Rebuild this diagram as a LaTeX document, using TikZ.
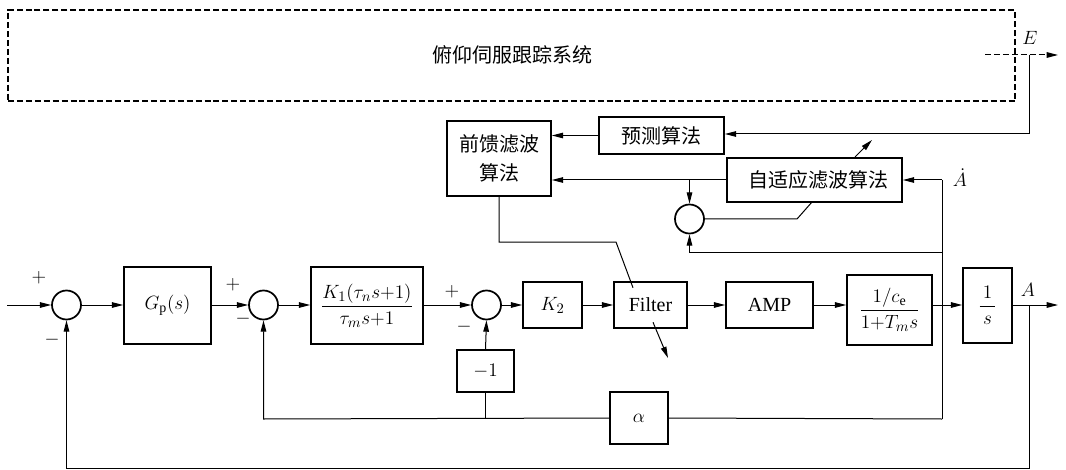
\documentclass[tikz,border=0pt]{standalone}
\usepackage{fontspec}
\usepackage{amsmath}
\setmainfont{Liberation Serif}
\newfontfamily\cjk{Noto Sans CJK SC}
\usetikzlibrary{arrows.meta}
\begin{document}
\begin{tikzpicture}[x=0.75pt,y=-0.75pt,
  every node/.style={font=\fontsize{15}{19}\selectfont, inner sep=0pt},
  blk/.style={draw, line width=1.3pt, align=center},
  sumc/.style={draw, circle, line width=1.3pt, minimum size=21.75pt},
  conn/.style={line width=0.75pt},
  arr/.style={conn, -{Triangle[length=8.5pt,width=4.2pt]}},
  sgn/.style={font=\fontsize{14}{16}\selectfont}]
\useasboundingbox (0,0) rectangle (1066,470);

% top system box
\node[draw, line width=0.8pt, dash pattern=on 4.5pt off 2.2pt, minimum width=755.25pt, minimum height=68.25pt] (sys) at (511.5,55.5) {};
\node (systxt) at (512,55) {\cjk 俯仰伺服跟踪系统};
\coordinate (eS) at (985,55);
\coordinate (eE) at (1058,55);
\draw[arr, dash pattern=on 4.5pt off 2.2pt] (eS) -- (eE);
\node (E) at (1030,38) {$E$};
\coordinate (eT) at (1029,55);
\coordinate (eB) at (1029,134);

% algorithm boxes
\node[blk, minimum width=93.75pt, minimum height=27.75pt] (pred) at (661.5,135.5) {\cjk 预测算法};
\node[blk, minimum width=78pt, minimum height=56.25pt] (ff) at (499,158.5) {\cjk 前馈滤波\\[3pt]\cjk 算法};
\node[blk, minimum width=131.25pt, minimum height=33pt] (adapt) at (814.5,180) {\hspace{6pt}\cjk 自适应滤波算法};
\node[sumc] (s4) at (689.5,219) {};

\draw[conn] (eT) -- (eB);
\draw[arr] (eB) -- (eB -| pred.east);
\draw[arr] (pred.west) -- (pred.west -| ff.east);
\draw[arr] (adapt.west) -- (adapt.west -| ff.east);
\coordinate (d1) at (689.5,180);
\draw[arr] (d1) -- (s4.north);
\coordinate (s4r) at (797,219);
\coordinate (adb) at (812,202);
\draw[conn] (s4.east) -- (s4r) -- (adb);
\coordinate (adjA) at (855,157);
\coordinate (adjB) at (872,140);
\draw[arr] (adjA) -- (adjB);

% main chain
\coordinate (in) at (7,305);
\node[sumc] (s1) at (66.5,305) {};
\node[blk, minimum width=65.25pt, minimum height=57.75pt] (gp) at (167.5,305.5) {$G_{\mathrm{p}}(s)$};
\node[sumc] (s2) at (263.5,305) {};
\node[blk, minimum width=84pt, minimum height=57.75pt] (k1) at (367,305.5) {$\dfrac{K_1(\tau_n s{+}1)}{\tau_m s{+}1}$};
\node[sumc] (s3) at (486.5,305) {};
\node[blk, minimum width=44.25pt, minimum height=34.5pt] (k2) at (552.5,305) {$K_2$};
\node[blk, minimum width=54.75pt, minimum height=34.5pt] (filt) at (650.5,305) {Filter};
\node[blk, minimum width=65.25pt, minimum height=34.5pt] (amp) at (769.5,305) {AMP};
\node[blk, minimum width=63.75pt, minimum height=52.5pt] (ce) at (889.5,310) {$\dfrac{1/c_{\mathrm{e}}}{1{+}T_m s}$};
\node[blk, minimum width=36.75pt, minimum height=56.25pt] (integ) at (987.5,305.5) {$\dfrac{\,1\,}{s}$};
\coordinate (out) at (1058,305);
\node[blk, minimum width=42.75pt, minimum height=31.5pt] (neg) at (485.5,371) {$-1$};
\node[blk, minimum width=43.5pt, minimum height=39pt] (alpha) at (639,418) {$\alpha$};

\draw[arr] (in) -- (s1.west);
\draw[arr] (s1.east) -- (s1.east -| gp.west);
\draw[arr] (s1.east -| gp.east) -- (s2.west);
\draw[arr] (s2.east) -- (s2.east -| k1.west);
\draw[arr] (s3.west -| k1.east) -- (s3.west);
\draw[arr] (s3.east) -- (k2.west);
\draw[arr] (k2.east) -- (filt.west);
\draw[arr] (filt.east) -- (amp.west);
\draw[arr] (amp.east) -- (amp.east -| ce.west);
\draw[arr] (amp.east -| ce.east) -- (amp.east -| integ.west);
\draw[arr] (s1.east -| integ.east) -- (out);

% labels
\node[sgn] (p1) at (39,278) {$+$};
\node[sgn] (m1) at (52,340) {$-$};
\node[sgn] (p2) at (233,285) {$+$};
\node[sgn] (m2) at (243,319) {$-$};
\node[sgn] (p3) at (452,292) {$+$};
\node[sgn] (m3) at (464,327) {$-$};
\node (A) at (1028,290) {$A$};
\node (Ad) at (960,178) {$\dot{A}$};

% velocity branch
\coordinate (vT) at (942,180);
\coordinate (vM) at (942,252);
\coordinate (vB) at (942,419);
\draw[conn] (vT) -- (vB);
\draw[arr] (vT) -- (adapt.east);
\draw[arr] (vM) -- (vM -| s4.south) -- (s4.south);
\draw[conn] (vB) -- (alpha.east);
\coordinate (aL) at (263.5,419);
\draw[arr] (alpha.west) -- (aL) -- (s2.south);
\coordinate (nJ) at (485.5,419);
\draw[conn] (nJ) -- (neg.south);
\draw[arr] (neg.north) -- (s3.south);

% outer loop
\coordinate (oT) at (1029,305);
\coordinate (oB) at (1029,468);
\coordinate (oL) at (66.5,468);
\draw[arr] (oT) -- (oB) -- (oL) -- (s1.south);

% feedforward to filter
\coordinate (f1) at (499,242);
\coordinate (f2) at (616,242);
\coordinate (f3) at (633,287.75);
\draw[conn] (ff.south) -- (f1) -- (f2) -- (f3);
\coordinate (fa) at (653,322.25);
\coordinate (fb) at (668,358);
\draw[arr] (fa) -- (fb);
\end{tikzpicture}
\end{document}
